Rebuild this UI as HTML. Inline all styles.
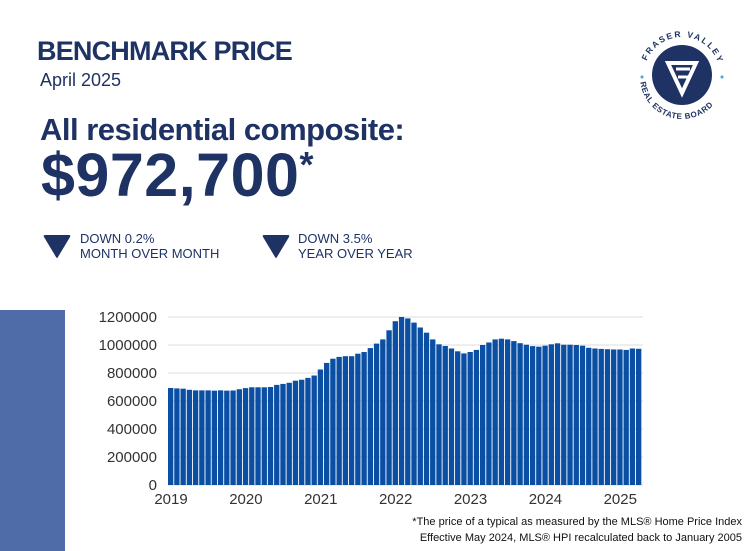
<!DOCTYPE html>
<html><head><style>
body{margin:0;width:750px;height:551px;background:#fff;font-family:"Liberation Sans",sans-serif;position:relative;overflow:hidden;color:#1f3264}
.a{position:absolute;white-space:nowrap}
</style></head><body>
<div class="a" style="left:37px;top:36px;font-size:27px;font-weight:bold;letter-spacing:-0.8px">BENCHMARK PRICE</div>
<div class="a" style="left:40px;top:70px;font-size:18px">April 2025</div>
<div class="a" style="left:40px;top:112px;font-size:31px;font-weight:bold;letter-spacing:-0.5px">All residential composite:</div>
<div class="a" style="left:41px;top:140px;font-size:61px;font-weight:bold;letter-spacing:0.5px">$972,700<span style="font-size:36px;vertical-align:top;position:relative;top:4px">*</span></div>
<svg class="a" style="left:42px;top:232px" width="30" height="28"><path d="M3 3 L27 3 Q29 3 28 5 L16 25 Q15 27 14 25 L2 5 Q1 3 3 3Z" fill="#1f3264"/></svg>
<div class="a" style="left:80px;top:231px;font-size:13px;line-height:15px">DOWN 0.2%<br>MONTH OVER MONTH</div>
<svg class="a" style="left:261px;top:232px" width="30" height="28"><path d="M3 3 L27 3 Q29 3 28 5 L16 25 Q15 27 14 25 L2 5 Q1 3 3 3Z" fill="#1f3264"/></svg>
<div class="a" style="left:298px;top:231px;font-size:13px;line-height:15px">DOWN 3.5%<br>YEAR OVER YEAR</div>
<svg class="a" style="left:630px;top:25px" width="105" height="100" viewBox="0 0 105 100">
<circle cx="52" cy="50" r="30" fill="#1f3264"/>
<path d="M38 38 L66 38 L52 68Z" fill="none" stroke="#fff" stroke-width="4"/>
<path d="M46 44 L60 44 M48 52 L58 52" stroke="#fff" stroke-width="3"/>
<defs><path id="t" d="M14 50 A38 38 0 0 1 90 50"/><path id="b" d="M10 52 A42 42 0 0 0 94 52"/></defs>
<text font-size="8.5" font-weight="bold" fill="#1f3264" letter-spacing="1.8"><textPath href="#t" startOffset="12%">FRASER VALLEY</textPath></text>
<text font-size="8" font-weight="bold" fill="#1f3264" letter-spacing="0.6"><textPath href="#b" startOffset="4%">REAL ESTATE BOARD</textPath></text>
<circle cx="12" cy="52" r="1.5" fill="#4aa3df"/><circle cx="92" cy="52" r="1.5" fill="#4aa3df"/>
</svg>
<div class="a" style="left:0;top:310px;width:65px;height:241px;background:#4f6ca8"></div>
<svg class="a" style="left:0;top:0" width="750" height="551" id="c"></svg>
<div class="a" style="right:8px;top:514px;font-size:11px;color:#111;text-align:right;line-height:16px">*The price of a typical as measured by the MLS® Home Price Index<br>Effective May 2024, MLS® HPI recalculated back to January 2005</div>
<script>
var v=[693,690,688,680,676,676,676,674,676,674,675,684,692,698,698,698,700,715,722,730,745,752,765,782,825,872,902,915,920,920,938,950,978,1010,1040,1105,1170,1200,1190,1160,1125,1088,1040,1005,993,975,955,940,950,965,1000,1018,1040,1045,1040,1028,1013,1002,992,988,995,1005,1012,1002,1002,1000,995,980,975,972,970,968,968,965,975,973];
var s='',x0=168,w=6.24,by=485,k=0.14;
for(var i=0;i<=6;i++){var y=by-i*200*k*1;s+='<line x1="168" x2="643" y1="'+y+'" y2="'+y+'" stroke="#ddd"/><text x="157" y="'+(y+5)+'" text-anchor="end" font-size="15" fill="#333">'+(i?i*200000:0)+'</text>';}
v.forEach(function(d,i){var h=d*k;s+='<rect x="'+(x0+i*w)+'" y="'+(by-h)+'" width="'+(w-0.9)+'" height="'+h+'" fill="#0a4fa3"/>';});
for(var j=0;j<7;j++){s+='<text x="'+(x0+j*12*w+3)+'" y="504" text-anchor="middle" font-size="15" fill="#333">'+(2019+j)+'</text>';}
document.getElementById('c').innerHTML=s;
</script>
</body></html>
